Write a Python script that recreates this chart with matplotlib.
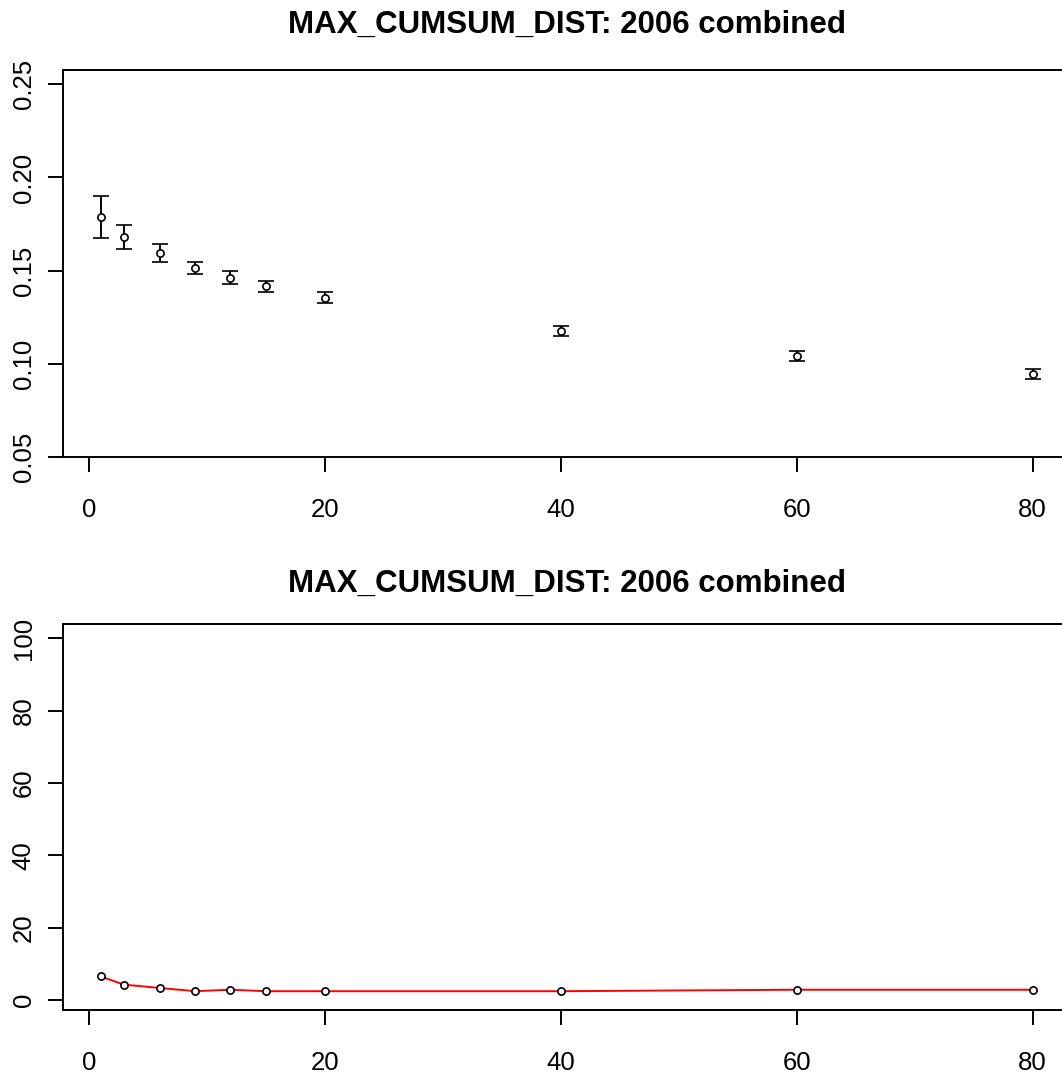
import matplotlib
matplotlib.use("Agg")
import matplotlib.pyplot as plt

plt.rcParams['font.family'] = ['Liberation Sans', 'DejaVu Sans']

# Window sizes and summary statistics
window = [1, 3, 6, 9, 12, 15, 20, 40, 60, 80]
mean_dist = [0.1787, 0.1679, 0.1595, 0.1513, 0.1462, 0.1415, 0.1355, 0.1177, 0.1043, 0.0944]
err_dist = [0.0112, 0.0064, 0.0050, 0.0032, 0.0036, 0.0032, 0.0028, 0.0027, 0.0027, 0.0028]
pct_err = [6.5, 4.2, 3.3, 2.4, 2.8, 2.4, 2.4, 2.4, 2.8, 2.8]

title = "MAX_CUMSUM_DIST: 2006 combined"
W, H = 1062, 1081
fig = plt.figure(figsize=(W / 100, H / 100), dpi=100)


def px_axes(left, top, right, bottom):
    return fig.add_axes([left / W, 1 - bottom / H, (right - left) / W, (bottom - top) / H])


def style(ax):
    for s in ax.spines.values():
        s.set_linewidth(1.4)
    ax.tick_params(axis='both', direction='out', length=11, width=1.4, labelsize=18.5)
    ax.tick_params(axis='x', pad=18.5)
    ax.tick_params(axis='y', pad=9)
    for lab in ax.get_yticklabels():
        lab.set_rotation(90)
        lab.set_va('center')


# Upper panel: mean with error bars
ax1 = px_axes(63.3, 70, 1070, 457.3)
ax1.errorbar(window, mean_dist, yerr=err_dist, fmt='o', mfc='white', mec='black',
             ms=5.2, mew=1.2, ecolor='black', elinewidth=1.4, capsize=5.8, capthick=1.4,
             color='black')
ax1.set_xlim(-2.16, 83.16)
ax1.set_ylim(0.0498, 0.2577)
ax1.set_xticks([0, 20, 40, 60, 80])
ax1.set_yticks([0.05, 0.10, 0.15, 0.20, 0.25])
ax1.set_yticklabels(["0.05", "0.10", "0.15", "0.20", "0.25"])
style(ax1)
fig.text(566.6 / W, 1 - 25 / H, title, ha='center', va='center', fontsize=22.5, fontweight='bold')

# Lower panel: relative error (%)
ax2 = px_axes(63.3, 624.3, 1070, 1010)
ax2.plot(window, pct_err, color='red', lw=1.4, zorder=2)
ax2.plot(window, pct_err, 'o', mfc='white', mec='black', ms=5.2, mew=1.2, zorder=3)
ax2.set_xlim(-2.16, 83.16)
ax2.set_ylim(-2.8, 103.9)
ax2.set_xticks([0, 20, 40, 60, 80])
ax2.set_yticks([0, 20, 40, 60, 80, 100])
style(ax2)
fig.text(566.6 / W, 1 - 584 / H, title, ha='center', va='center', fontsize=22.5, fontweight='bold')

fig.savefig("out.png", dpi=100)
